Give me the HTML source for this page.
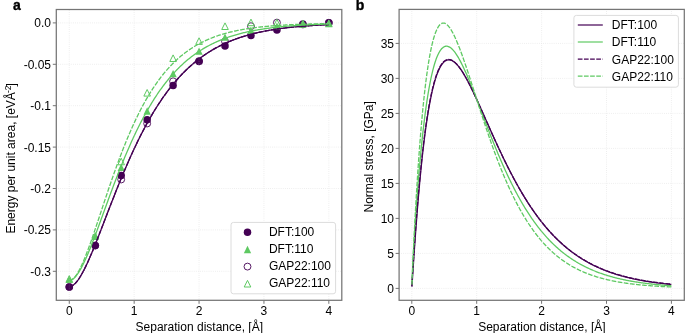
<!DOCTYPE html>
<html><head><meta charset="utf-8"><style>
html,body{margin:0;padding:0;background:#fff;}
svg{display:block;}
#wrap{will-change:transform;width:685px;height:333px;}
text{font-family:"Liberation Sans", sans-serif;fill:#000;}
</style></head><body><div id="wrap">
<svg width="685" height="333" viewBox="0 0 685 333">
<rect width="685" height="333" fill="#fff"/>
<g clip-path="url(#clipL)">
<circle cx="69.28" cy="287.0" r="3.75" fill="#440154"/>
<circle cx="95.24" cy="245.6" r="3.75" fill="#440154"/>
<circle cx="121.19" cy="175.6" r="3.75" fill="#440154"/>
<circle cx="147.15" cy="119.7" r="3.75" fill="#440154"/>
<circle cx="173.10" cy="85.5" r="3.75" fill="#440154"/>
<circle cx="199.06" cy="61.5" r="3.75" fill="#440154"/>
<circle cx="225.02" cy="46.0" r="3.75" fill="#440154"/>
<circle cx="250.97" cy="35.4" r="3.75" fill="#440154"/>
<circle cx="276.93" cy="29.9" r="3.75" fill="#440154"/>
<circle cx="302.88" cy="24.6" r="3.75" fill="#440154"/>
<circle cx="328.84" cy="22.8" r="3.75" fill="#440154"/>
<circle cx="69.28" cy="287.0" r="3.45" fill="none" stroke="#440154" stroke-width="0.9"/>
<circle cx="95.24" cy="245.6" r="3.45" fill="none" stroke="#440154" stroke-width="0.9"/>
<circle cx="121.19" cy="179.5" r="3.45" fill="none" stroke="#440154" stroke-width="0.9"/>
<circle cx="147.15" cy="123.5" r="3.45" fill="none" stroke="#440154" stroke-width="0.9"/>
<circle cx="173.10" cy="81.3" r="3.45" fill="none" stroke="#440154" stroke-width="0.9"/>
<circle cx="199.06" cy="61.0" r="3.45" fill="none" stroke="#440154" stroke-width="0.9"/>
<circle cx="225.02" cy="41.4" r="3.45" fill="none" stroke="#440154" stroke-width="0.9"/>
<circle cx="250.97" cy="26.2" r="3.45" fill="none" stroke="#440154" stroke-width="0.9"/>
<circle cx="276.93" cy="22.6" r="3.45" fill="none" stroke="#440154" stroke-width="0.9"/>
<circle cx="302.88" cy="24.0" r="3.45" fill="none" stroke="#440154" stroke-width="0.9"/>
<circle cx="328.84" cy="22.8" r="3.45" fill="none" stroke="#440154" stroke-width="0.9"/>
<polygon points="69.28,275.35 65.63,282.65 72.93,282.65" fill="#5ec962"/>
<polygon points="95.24,232.65 91.59,239.95 98.89,239.95" fill="#5ec962"/>
<polygon points="121.19,163.75 117.54,171.05 124.84,171.05" fill="#5ec962"/>
<polygon points="147.15,107.35 143.50,114.65 150.80,114.65" fill="#5ec962"/>
<polygon points="173.10,69.95 169.45,77.25 176.75,77.25" fill="#5ec962"/>
<polygon points="199.06,47.45 195.41,54.75 202.71,54.75" fill="#5ec962"/>
<polygon points="225.02,33.55 221.37,40.85 228.67,40.85" fill="#5ec962"/>
<polygon points="250.97,26.65 247.32,33.95 254.62,33.95" fill="#5ec962"/>
<polygon points="276.93,22.55 273.28,29.85 280.58,29.85" fill="#5ec962"/>
<polygon points="302.88,20.35 299.23,27.65 306.53,27.65" fill="#5ec962"/>
<polygon points="328.84,19.95 325.19,27.25 332.49,27.25" fill="#5ec962"/>
<polygon points="69.28,275.70 65.98,282.30 72.58,282.30" fill="none" stroke="#5ec962" stroke-width="1"/>
<polygon points="95.24,232.70 91.94,239.30 98.54,239.30" fill="none" stroke="#5ec962" stroke-width="1"/>
<polygon points="121.19,158.20 117.89,164.80 124.49,164.80" fill="none" stroke="#5ec962" stroke-width="1"/>
<polygon points="147.15,89.50 143.85,96.10 150.45,96.10" fill="none" stroke="#5ec962" stroke-width="1"/>
<polygon points="173.10,54.90 169.80,61.50 176.40,61.50" fill="none" stroke="#5ec962" stroke-width="1"/>
<polygon points="199.06,37.80 195.76,44.40 202.36,44.40" fill="none" stroke="#5ec962" stroke-width="1"/>
<polygon points="225.02,22.90 221.72,29.50 228.32,29.50" fill="none" stroke="#5ec962" stroke-width="1"/>
<polygon points="250.97,19.10 247.67,25.70 254.27,25.70" fill="none" stroke="#5ec962" stroke-width="1"/>
<polygon points="276.93,19.30 273.63,25.90 280.23,25.90" fill="none" stroke="#5ec962" stroke-width="1"/>
<polygon points="302.88,20.20 299.58,26.80 306.18,26.80" fill="none" stroke="#5ec962" stroke-width="1"/>
<polygon points="328.84,19.90 325.54,26.50 332.14,26.50" fill="none" stroke="#5ec962" stroke-width="1"/>
<path d="M69.28,286.57 L70.15,286.50 L71.02,286.27 L71.88,285.91 L72.75,285.42 L73.62,284.81 L74.49,284.07 L75.36,283.23 L76.22,282.28 L77.09,281.23 L77.96,280.08 L78.83,278.85 L79.70,277.53 L80.57,276.14 L81.43,274.67 L82.30,273.13 L83.17,271.53 L84.04,269.87 L84.91,268.15 L85.77,266.38 L86.64,264.56 L87.51,262.69 L88.38,260.78 L89.25,258.83 L90.11,256.84 L90.98,254.82 L91.85,252.77 L92.72,250.69 L93.59,248.59 L94.45,246.46 L95.32,244.31 L96.19,242.14 L97.06,239.95 L97.93,237.75 L98.80,235.54 L99.66,233.32 L100.53,231.08 L101.40,228.84 L102.27,226.60 L103.14,224.34 L104.00,222.09 L104.87,219.83 L105.74,217.57 L106.61,215.32 L107.48,213.06 L108.34,210.81 L109.21,208.56 L110.08,206.32 L110.95,204.08 L111.82,201.85 L112.68,199.63 L113.55,197.42 L114.42,195.21 L115.29,193.02 L116.16,190.83 L117.03,188.66 L117.89,186.50 L118.76,184.35 L119.63,182.22 L120.50,180.10 L121.37,177.99 L122.23,175.90 L123.10,173.82 L123.97,171.76 L124.84,169.71 L125.71,167.68 L126.57,165.67 L127.44,163.67 L128.31,161.69 L129.18,159.72 L130.05,157.78 L130.91,155.85 L131.78,153.94 L132.65,152.04 L133.52,150.17 L134.39,148.31 L135.26,146.47 L136.12,144.65 L136.99,142.85 L137.86,141.07 L138.73,139.31 L139.60,137.56 L140.46,135.83 L141.33,134.13 L142.20,132.44 L143.07,130.77 L143.94,129.12 L144.80,127.49 L145.67,125.87 L146.54,124.28 L147.41,122.70 L148.28,121.15 L149.14,119.61 L150.01,118.09 L150.88,116.59 L151.75,115.11 L152.62,113.64 L153.49,112.20 L154.35,110.77 L155.22,109.36 L156.09,107.97 L156.96,106.60 L157.83,105.24 L158.69,103.91 L159.56,102.59 L160.43,101.29 L161.30,100.00 L162.17,98.74 L163.03,97.49 L163.90,96.25 L164.77,95.04 L165.64,93.84 L166.51,92.66 L167.37,91.49 L168.24,90.34 L169.11,89.21 L169.98,88.09 L170.85,86.99 L171.72,85.90 L172.58,84.83 L173.45,83.78 L174.32,82.74 L175.19,81.72 L176.06,80.71 L176.92,79.72 L177.79,78.74 L178.66,77.77 L179.53,76.82 L180.40,75.89 L181.26,74.96 L182.13,74.06 L183.00,73.16 L183.87,72.28 L184.74,71.42 L185.60,70.56 L186.47,69.72 L187.34,68.90 L188.21,68.08 L189.08,67.28 L189.95,66.49 L190.81,65.71 L191.68,64.95 L192.55,64.20 L193.42,63.46 L194.29,62.73 L195.15,62.01 L196.02,61.31 L196.89,60.61 L197.76,59.93 L198.63,59.26 L199.49,58.60 L200.36,57.95 L201.23,57.31 L202.10,56.68 L202.97,56.06 L203.83,55.45 L204.70,54.86 L205.57,54.27 L206.44,53.69 L207.31,53.12 L208.17,52.56 L209.04,52.01 L209.91,51.47 L210.78,50.94 L211.65,50.42 L212.52,49.90 L213.38,49.40 L214.25,48.90 L215.12,48.41 L215.99,47.94 L216.86,47.46 L217.72,47.00 L218.59,46.55 L219.46,46.10 L220.33,45.66 L221.20,45.23 L222.06,44.80 L222.93,44.39 L223.80,43.98 L224.67,43.58 L225.54,43.18 L226.40,42.79 L227.27,42.41 L228.14,42.04 L229.01,41.67 L229.88,41.31 L230.75,40.95 L231.61,40.60 L232.48,40.26 L233.35,39.92 L234.22,39.59 L235.09,39.27 L235.95,38.95 L236.82,38.64 L237.69,38.33 L238.56,38.03 L239.43,37.74 L240.29,37.44 L241.16,37.16 L242.03,36.88 L242.90,36.60 L243.77,36.33 L244.63,36.07 L245.50,35.81 L246.37,35.56 L247.24,35.30 L248.11,35.06 L248.98,34.82 L249.84,34.58 L250.71,34.35 L251.58,34.12 L252.45,33.90 L253.32,33.68 L254.18,33.46 L255.05,33.25 L255.92,33.04 L256.79,32.84 L257.66,32.64 L258.52,32.44 L259.39,32.25 L260.26,32.06 L261.13,31.88 L262.00,31.70 L262.86,31.52 L263.73,31.35 L264.60,31.17 L265.47,31.01 L266.34,30.84 L267.21,30.68 L268.07,30.52 L268.94,30.37 L269.81,30.21 L270.68,30.06 L271.55,29.92 L272.41,29.77 L273.28,29.63 L274.15,29.50 L275.02,29.36 L275.89,29.23 L276.75,29.10 L277.62,28.97 L278.49,28.84 L279.36,28.72 L280.23,28.60 L281.09,28.48 L281.96,28.37 L282.83,28.25 L283.70,28.14 L284.57,28.03 L285.44,27.93 L286.30,27.82 L287.17,27.72 L288.04,27.62 L288.91,27.52 L289.78,27.43 L290.64,27.33 L291.51,27.24 L292.38,27.15 L293.25,27.06 L294.12,26.97 L294.98,26.89 L295.85,26.80 L296.72,26.72 L297.59,26.64 L298.46,26.56 L299.32,26.48 L300.19,26.41 L301.06,26.33 L301.93,26.26 L302.80,26.19 L303.67,26.12 L304.53,26.05 L305.40,25.98 L306.27,25.92 L307.14,25.85 L308.01,25.79 L308.87,25.73 L309.74,25.67 L310.61,25.61 L311.48,25.55 L312.35,25.50 L313.21,25.44 L314.08,25.39 L314.95,25.33 L315.82,25.28 L316.69,25.23 L317.55,25.18 L318.42,25.13 L319.29,25.08 L320.16,25.04 L321.03,24.99 L321.90,24.94 L322.76,24.90 L323.63,24.86 L324.50,24.82 L325.37,24.77 L326.24,24.73 L327.10,24.69 L327.97,24.65 L328.84,24.62" fill="none" stroke="#440154" stroke-width="1.3" stroke-linejoin="round"/>
<path d="M69.28,286.57 L70.15,286.50 L71.02,286.27 L71.88,285.91 L72.75,285.42 L73.62,284.81 L74.49,284.07 L75.36,283.23 L76.22,282.28 L77.09,281.23 L77.96,280.08 L78.83,278.85 L79.70,277.53 L80.57,276.14 L81.43,274.67 L82.30,273.13 L83.17,271.53 L84.04,269.87 L84.91,268.15 L85.77,266.38 L86.64,264.56 L87.51,262.69 L88.38,260.78 L89.25,258.83 L90.11,256.84 L90.98,254.82 L91.85,252.77 L92.72,250.69 L93.59,248.59 L94.45,246.46 L95.32,244.31 L96.19,242.14 L97.06,239.95 L97.93,237.75 L98.80,235.54 L99.66,233.32 L100.53,231.08 L101.40,228.84 L102.27,226.60 L103.14,224.34 L104.00,222.09 L104.87,219.83 L105.74,217.57 L106.61,215.32 L107.48,213.06 L108.34,210.81 L109.21,208.56 L110.08,206.32 L110.95,204.08 L111.82,201.85 L112.68,199.63 L113.55,197.42 L114.42,195.21 L115.29,193.02 L116.16,190.83 L117.03,188.66 L117.89,186.50 L118.76,184.35 L119.63,182.22 L120.50,180.10 L121.37,177.99 L122.23,175.90 L123.10,173.82 L123.97,171.76 L124.84,169.71 L125.71,167.68 L126.57,165.67 L127.44,163.67 L128.31,161.69 L129.18,159.72 L130.05,157.78 L130.91,155.85 L131.78,153.94 L132.65,152.04 L133.52,150.17 L134.39,148.31 L135.26,146.47 L136.12,144.65 L136.99,142.85 L137.86,141.07 L138.73,139.31 L139.60,137.56 L140.46,135.83 L141.33,134.13 L142.20,132.44 L143.07,130.77 L143.94,129.12 L144.80,127.49 L145.67,125.87 L146.54,124.28 L147.41,122.70 L148.28,121.15 L149.14,119.61 L150.01,118.09 L150.88,116.59 L151.75,115.11 L152.62,113.64 L153.49,112.20 L154.35,110.77 L155.22,109.36 L156.09,107.97 L156.96,106.60 L157.83,105.24 L158.69,103.91 L159.56,102.59 L160.43,101.29 L161.30,100.00 L162.17,98.74 L163.03,97.49 L163.90,96.25 L164.77,95.04 L165.64,93.84 L166.51,92.66 L167.37,91.49 L168.24,90.34 L169.11,89.21 L169.98,88.09 L170.85,86.99 L171.72,85.90 L172.58,84.83 L173.45,83.78 L174.32,82.74 L175.19,81.72 L176.06,80.71 L176.92,79.72 L177.79,78.74 L178.66,77.77 L179.53,76.82 L180.40,75.89 L181.26,74.96 L182.13,74.06 L183.00,73.16 L183.87,72.28 L184.74,71.42 L185.60,70.56 L186.47,69.72 L187.34,68.90 L188.21,68.08 L189.08,67.28 L189.95,66.49 L190.81,65.71 L191.68,64.95 L192.55,64.20 L193.42,63.46 L194.29,62.73 L195.15,62.01 L196.02,61.31 L196.89,60.61 L197.76,59.93 L198.63,59.26 L199.49,58.60 L200.36,57.95 L201.23,57.31 L202.10,56.68 L202.97,56.06 L203.83,55.45 L204.70,54.86 L205.57,54.27 L206.44,53.69 L207.31,53.12 L208.17,52.56 L209.04,52.01 L209.91,51.47 L210.78,50.94 L211.65,50.42 L212.52,49.90 L213.38,49.40 L214.25,48.90 L215.12,48.41 L215.99,47.94 L216.86,47.46 L217.72,47.00 L218.59,46.55 L219.46,46.10 L220.33,45.66 L221.20,45.23 L222.06,44.80 L222.93,44.39 L223.80,43.98 L224.67,43.58 L225.54,43.18 L226.40,42.79 L227.27,42.41 L228.14,42.04 L229.01,41.67 L229.88,41.31 L230.75,40.95 L231.61,40.60 L232.48,40.26 L233.35,39.92 L234.22,39.59 L235.09,39.27 L235.95,38.95 L236.82,38.64 L237.69,38.33 L238.56,38.03 L239.43,37.74 L240.29,37.44 L241.16,37.16 L242.03,36.88 L242.90,36.60 L243.77,36.33 L244.63,36.07 L245.50,35.81 L246.37,35.56 L247.24,35.30 L248.11,35.06 L248.98,34.82 L249.84,34.58 L250.71,34.35 L251.58,34.12 L252.45,33.90 L253.32,33.68 L254.18,33.46 L255.05,33.25 L255.92,33.04 L256.79,32.84 L257.66,32.64 L258.52,32.44 L259.39,32.25 L260.26,32.06 L261.13,31.88 L262.00,31.70 L262.86,31.52 L263.73,31.35 L264.60,31.17 L265.47,31.01 L266.34,30.84 L267.21,30.68 L268.07,30.52 L268.94,30.37 L269.81,30.21 L270.68,30.06 L271.55,29.92 L272.41,29.77 L273.28,29.63 L274.15,29.50 L275.02,29.36 L275.89,29.23 L276.75,29.10 L277.62,28.97 L278.49,28.84 L279.36,28.72 L280.23,28.60 L281.09,28.48 L281.96,28.37 L282.83,28.25 L283.70,28.14 L284.57,28.03 L285.44,27.93 L286.30,27.82 L287.17,27.72 L288.04,27.62 L288.91,27.52 L289.78,27.43 L290.64,27.33 L291.51,27.24 L292.38,27.15 L293.25,27.06 L294.12,26.97 L294.98,26.89 L295.85,26.80 L296.72,26.72 L297.59,26.64 L298.46,26.56 L299.32,26.48 L300.19,26.41 L301.06,26.33 L301.93,26.26 L302.80,26.19 L303.67,26.12 L304.53,26.05 L305.40,25.98 L306.27,25.92 L307.14,25.85 L308.01,25.79 L308.87,25.73 L309.74,25.67 L310.61,25.61 L311.48,25.55 L312.35,25.50 L313.21,25.44 L314.08,25.39 L314.95,25.33 L315.82,25.28 L316.69,25.23 L317.55,25.18 L318.42,25.13 L319.29,25.08 L320.16,25.04 L321.03,24.99 L321.90,24.94 L322.76,24.90 L323.63,24.86 L324.50,24.82 L325.37,24.77 L326.24,24.73 L327.10,24.69 L327.97,24.65 L328.84,24.62" fill="none" stroke="#440154" stroke-width="1.3" stroke-dasharray="4.7 1.45" stroke-linejoin="round"/>
<path d="M69.28,280.39 L70.15,280.31 L71.02,280.07 L71.88,279.68 L72.75,279.15 L73.62,278.49 L74.49,277.70 L75.36,276.79 L76.22,275.76 L77.09,274.63 L77.96,273.40 L78.83,272.07 L79.70,270.65 L80.57,269.15 L81.43,267.57 L82.30,265.92 L83.17,264.19 L84.04,262.41 L84.91,260.56 L85.77,258.65 L86.64,256.70 L87.51,254.69 L88.38,252.64 L89.25,250.55 L90.11,248.42 L90.98,246.26 L91.85,244.06 L92.72,241.84 L93.59,239.59 L94.45,237.31 L95.32,235.02 L96.19,232.71 L97.06,230.38 L97.93,228.04 L98.80,225.69 L99.66,223.33 L100.53,220.96 L101.40,218.58 L102.27,216.21 L103.14,213.83 L104.00,211.44 L104.87,209.06 L105.74,206.69 L106.61,204.31 L107.48,201.94 L108.34,199.58 L109.21,197.22 L110.08,194.87 L110.95,192.54 L111.82,190.21 L112.68,187.89 L113.55,185.59 L114.42,183.30 L115.29,181.02 L116.16,178.75 L117.03,176.51 L117.89,174.27 L118.76,172.06 L119.63,169.86 L120.50,167.68 L121.37,165.52 L122.23,163.37 L123.10,161.24 L123.97,159.14 L124.84,157.05 L125.71,154.98 L126.57,152.93 L127.44,150.91 L128.31,148.90 L129.18,146.92 L130.05,144.95 L130.91,143.01 L131.78,141.09 L132.65,139.19 L133.52,137.31 L134.39,135.45 L135.26,133.61 L136.12,131.80 L136.99,130.01 L137.86,128.24 L138.73,126.49 L139.60,124.77 L140.46,123.06 L141.33,121.38 L142.20,119.72 L143.07,118.08 L143.94,116.46 L144.80,114.87 L145.67,113.29 L146.54,111.74 L147.41,110.21 L148.28,108.70 L149.14,107.21 L150.01,105.74 L150.88,104.30 L151.75,102.87 L152.62,101.47 L153.49,100.08 L154.35,98.72 L155.22,97.37 L156.09,96.05 L156.96,94.74 L157.83,93.46 L158.69,92.19 L159.56,90.94 L160.43,89.72 L161.30,88.51 L162.17,87.32 L163.03,86.15 L163.90,84.99 L164.77,83.86 L165.64,82.74 L166.51,81.64 L167.37,80.56 L168.24,79.50 L169.11,78.45 L169.98,77.42 L170.85,76.41 L171.72,75.41 L172.58,74.43 L173.45,73.47 L174.32,72.52 L175.19,71.59 L176.06,70.67 L176.92,69.77 L177.79,68.88 L178.66,68.01 L179.53,67.15 L180.40,66.31 L181.26,65.48 L182.13,64.67 L183.00,63.87 L183.87,63.09 L184.74,62.32 L185.60,61.56 L186.47,60.81 L187.34,60.08 L188.21,59.36 L189.08,58.65 L189.95,57.96 L190.81,57.28 L191.68,56.61 L192.55,55.95 L193.42,55.30 L194.29,54.67 L195.15,54.05 L196.02,53.44 L196.89,52.83 L197.76,52.24 L198.63,51.67 L199.49,51.10 L200.36,50.54 L201.23,49.99 L202.10,49.45 L202.97,48.92 L203.83,48.41 L204.70,47.90 L205.57,47.40 L206.44,46.91 L207.31,46.43 L208.17,45.96 L209.04,45.49 L209.91,45.04 L210.78,44.59 L211.65,44.15 L212.52,43.72 L213.38,43.30 L214.25,42.89 L215.12,42.48 L215.99,42.09 L216.86,41.70 L217.72,41.31 L218.59,40.94 L219.46,40.57 L220.33,40.21 L221.20,39.86 L222.06,39.51 L222.93,39.17 L223.80,38.83 L224.67,38.51 L225.54,38.18 L226.40,37.87 L227.27,37.56 L228.14,37.26 L229.01,36.96 L229.88,36.67 L230.75,36.38 L231.61,36.10 L232.48,35.83 L233.35,35.56 L234.22,35.30 L235.09,35.04 L235.95,34.79 L236.82,34.54 L237.69,34.29 L238.56,34.06 L239.43,33.82 L240.29,33.59 L241.16,33.37 L242.03,33.15 L242.90,32.93 L243.77,32.72 L244.63,32.51 L245.50,32.31 L246.37,32.11 L247.24,31.92 L248.11,31.73 L248.98,31.54 L249.84,31.36 L250.71,31.18 L251.58,31.00 L252.45,30.83 L253.32,30.66 L254.18,30.50 L255.05,30.33 L255.92,30.17 L256.79,30.02 L257.66,29.87 L258.52,29.72 L259.39,29.57 L260.26,29.43 L261.13,29.29 L262.00,29.15 L262.86,29.02 L263.73,28.89 L264.60,28.76 L265.47,28.63 L266.34,28.51 L267.21,28.39 L268.07,28.27 L268.94,28.15 L269.81,28.04 L270.68,27.93 L271.55,27.82 L272.41,27.71 L273.28,27.61 L274.15,27.50 L275.02,27.40 L275.89,27.31 L276.75,27.21 L277.62,27.12 L278.49,27.02 L279.36,26.93 L280.23,26.85 L281.09,26.76 L281.96,26.68 L282.83,26.59 L283.70,26.51 L284.57,26.43 L285.44,26.35 L286.30,26.28 L287.17,26.20 L288.04,26.13 L288.91,26.06 L289.78,25.99 L290.64,25.92 L291.51,25.86 L292.38,25.79 L293.25,25.73 L294.12,25.66 L294.98,25.60 L295.85,25.54 L296.72,25.49 L297.59,25.43 L298.46,25.37 L299.32,25.32 L300.19,25.26 L301.06,25.21 L301.93,25.16 L302.80,25.11 L303.67,25.06 L304.53,25.01 L305.40,24.96 L306.27,24.92 L307.14,24.87 L308.01,24.83 L308.87,24.79 L309.74,24.74 L310.61,24.70 L311.48,24.66 L312.35,24.62 L313.21,24.58 L314.08,24.55 L314.95,24.51 L315.82,24.47 L316.69,24.44 L317.55,24.40 L318.42,24.37 L319.29,24.34 L320.16,24.30 L321.03,24.27 L321.90,24.24 L322.76,24.21 L323.63,24.18 L324.50,24.15 L325.37,24.12 L326.24,24.10 L327.10,24.07 L327.97,24.04 L328.84,24.02" fill="none" stroke="#5ec962" stroke-width="1.3" stroke-linejoin="round"/>
<path d="M69.28,280.52 L70.15,280.43 L71.02,280.15 L71.88,279.70 L72.75,279.08 L73.62,278.30 L74.49,277.38 L75.36,276.33 L76.22,275.14 L77.09,273.83 L77.96,272.40 L78.83,270.87 L79.70,269.24 L80.57,267.51 L81.43,265.69 L82.30,263.79 L83.17,261.82 L84.04,259.77 L84.91,257.66 L85.77,255.49 L86.64,253.26 L87.51,250.98 L88.38,248.66 L89.25,246.29 L90.11,243.88 L90.98,241.44 L91.85,238.97 L92.72,236.47 L93.59,233.94 L94.45,231.39 L95.32,228.83 L96.19,226.25 L97.06,223.66 L97.93,221.06 L98.80,218.44 L99.66,215.83 L100.53,213.21 L101.40,210.59 L102.27,207.97 L103.14,205.36 L104.00,202.74 L104.87,200.14 L105.74,197.54 L106.61,194.95 L107.48,192.38 L108.34,189.81 L109.21,187.26 L110.08,184.72 L110.95,182.20 L111.82,179.70 L112.68,177.21 L113.55,174.74 L114.42,172.29 L115.29,169.86 L116.16,167.45 L117.03,165.07 L117.89,162.70 L118.76,160.36 L119.63,158.04 L120.50,155.74 L121.37,153.47 L122.23,151.23 L123.10,149.00 L123.97,146.81 L124.84,144.64 L125.71,142.49 L126.57,140.37 L127.44,138.28 L128.31,136.21 L129.18,134.17 L130.05,132.16 L130.91,130.17 L131.78,128.21 L132.65,126.27 L133.52,124.37 L134.39,122.48 L135.26,120.63 L136.12,118.80 L136.99,117.00 L137.86,115.23 L138.73,113.48 L139.60,111.76 L140.46,110.06 L141.33,108.39 L142.20,106.75 L143.07,105.13 L143.94,103.54 L144.80,101.97 L145.67,100.43 L146.54,98.91 L147.41,97.42 L148.28,95.95 L149.14,94.50 L150.01,93.08 L150.88,91.69 L151.75,90.32 L152.62,88.97 L153.49,87.64 L154.35,86.34 L155.22,85.06 L156.09,83.80 L156.96,82.56 L157.83,81.35 L158.69,80.16 L159.56,78.99 L160.43,77.84 L161.30,76.71 L162.17,75.60 L163.03,74.51 L163.90,73.44 L164.77,72.39 L165.64,71.37 L166.51,70.35 L167.37,69.36 L168.24,68.39 L169.11,67.44 L169.98,66.50 L170.85,65.58 L171.72,64.68 L172.58,63.80 L173.45,62.93 L174.32,62.08 L175.19,61.25 L176.06,60.43 L176.92,59.63 L177.79,58.84 L178.66,58.07 L179.53,57.32 L180.40,56.58 L181.26,55.85 L182.13,55.14 L183.00,54.44 L183.87,53.76 L184.74,53.09 L185.60,52.44 L186.47,51.79 L187.34,51.16 L188.21,50.55 L189.08,49.94 L189.95,49.35 L190.81,48.77 L191.68,48.21 L192.55,47.65 L193.42,47.11 L194.29,46.57 L195.15,46.05 L196.02,45.54 L196.89,45.04 L197.76,44.55 L198.63,44.07 L199.49,43.60 L200.36,43.14 L201.23,42.69 L202.10,42.25 L202.97,41.82 L203.83,41.39 L204.70,40.98 L205.57,40.58 L206.44,40.18 L207.31,39.79 L208.17,39.42 L209.04,39.04 L209.91,38.68 L210.78,38.33 L211.65,37.98 L212.52,37.64 L213.38,37.31 L214.25,36.98 L215.12,36.66 L215.99,36.35 L216.86,36.05 L217.72,35.75 L218.59,35.46 L219.46,35.17 L220.33,34.90 L221.20,34.62 L222.06,34.36 L222.93,34.10 L223.80,33.84 L224.67,33.59 L225.54,33.35 L226.40,33.11 L227.27,32.88 L228.14,32.65 L229.01,32.43 L229.88,32.21 L230.75,32.00 L231.61,31.79 L232.48,31.58 L233.35,31.38 L234.22,31.19 L235.09,31.00 L235.95,30.81 L236.82,30.63 L237.69,30.46 L238.56,30.28 L239.43,30.11 L240.29,29.95 L241.16,29.78 L242.03,29.63 L242.90,29.47 L243.77,29.32 L244.63,29.17 L245.50,29.03 L246.37,28.89 L247.24,28.75 L248.11,28.61 L248.98,28.48 L249.84,28.35 L250.71,28.23 L251.58,28.10 L252.45,27.98 L253.32,27.87 L254.18,27.75 L255.05,27.64 L255.92,27.53 L256.79,27.42 L257.66,27.32 L258.52,27.22 L259.39,27.12 L260.26,27.02 L261.13,26.93 L262.00,26.83 L262.86,26.74 L263.73,26.65 L264.60,26.57 L265.47,26.48 L266.34,26.40 L267.21,26.32 L268.07,26.24 L268.94,26.16 L269.81,26.09 L270.68,26.01 L271.55,25.94 L272.41,25.87 L273.28,25.80 L274.15,25.74 L275.02,25.67 L275.89,25.61 L276.75,25.55 L277.62,25.48 L278.49,25.42 L279.36,25.37 L280.23,25.31 L281.09,25.25 L281.96,25.20 L282.83,25.15 L283.70,25.10 L284.57,25.05 L285.44,25.00 L286.30,24.95 L287.17,24.90 L288.04,24.86 L288.91,24.81 L289.78,24.77 L290.64,24.72 L291.51,24.68 L292.38,24.64 L293.25,24.60 L294.12,24.56 L294.98,24.53 L295.85,24.49 L296.72,24.45 L297.59,24.42 L298.46,24.38 L299.32,24.35 L300.19,24.32 L301.06,24.28 L301.93,24.25 L302.80,24.22 L303.67,24.19 L304.53,24.16 L305.40,24.13 L306.27,24.11 L307.14,24.08 L308.01,24.05 L308.87,24.03 L309.74,24.00 L310.61,23.98 L311.48,23.95 L312.35,23.93 L313.21,23.91 L314.08,23.88 L314.95,23.86 L315.82,23.84 L316.69,23.82 L317.55,23.80 L318.42,23.78 L319.29,23.76 L320.16,23.74 L321.03,23.72 L321.90,23.70 L322.76,23.68 L323.63,23.67 L324.50,23.65 L325.37,23.63 L326.24,23.62 L327.10,23.60 L327.97,23.59 L328.84,23.57" fill="none" stroke="#5ec962" stroke-width="1.3" stroke-dasharray="4.7 1.45" stroke-linejoin="round"/>
</g>
<path d="M411.93,286.59 L412.58,276.72 L413.23,266.80 L413.88,257.06 L414.53,247.57 L415.18,238.36 L415.83,229.45 L416.48,220.84 L417.13,212.53 L417.78,204.51 L418.43,196.79 L419.08,189.35 L419.73,182.20 L420.38,175.33 L421.03,168.72 L421.68,162.38 L422.33,156.30 L422.98,150.47 L423.64,144.88 L424.29,139.54 L424.94,134.42 L425.59,129.53 L426.24,124.86 L426.89,120.40 L427.54,116.15 L428.19,112.10 L428.84,108.25 L429.49,104.58 L430.14,101.10 L430.79,97.80 L431.44,94.68 L432.09,91.72 L432.74,88.92 L433.39,86.29 L434.04,83.81 L434.69,81.47 L435.34,79.28 L435.99,77.24 L436.64,75.33 L437.29,73.55 L437.94,71.89 L438.59,70.36 L439.24,68.95 L439.89,67.66 L440.54,66.48 L441.19,65.41 L441.84,64.44 L442.49,63.58 L443.14,62.81 L443.79,62.14 L444.44,61.56 L445.10,61.07 L445.75,60.66 L446.40,60.34 L447.05,60.10 L447.70,59.94 L448.35,59.85 L449.00,59.83 L449.65,59.88 L450.30,60.00 L450.95,60.19 L451.60,60.44 L452.25,60.74 L452.90,61.11 L453.55,61.53 L454.20,62.01 L454.85,62.53 L455.50,63.11 L456.15,63.73 L456.80,64.41 L457.45,65.12 L458.10,65.88 L458.75,66.68 L459.40,67.51 L460.05,68.39 L460.70,69.30 L461.35,70.24 L462.00,71.22 L462.65,72.23 L463.30,73.27 L463.95,74.34 L464.60,75.43 L465.25,76.56 L465.90,77.70 L466.56,78.87 L467.21,80.06 L467.86,81.28 L468.51,82.51 L469.16,83.76 L469.81,85.04 L470.46,86.32 L471.11,87.63 L471.76,88.95 L472.41,90.28 L473.06,91.63 L473.71,92.99 L474.36,94.36 L475.01,95.74 L475.66,97.13 L476.31,98.53 L476.96,99.94 L477.61,101.36 L478.26,102.78 L478.91,104.21 L479.56,105.65 L480.21,107.09 L480.86,108.54 L481.51,109.99 L482.16,111.44 L482.81,112.90 L483.46,114.35 L484.11,115.81 L484.76,117.28 L485.41,118.74 L486.06,120.20 L486.71,121.66 L487.36,123.13 L488.02,124.59 L488.67,126.05 L489.32,127.51 L489.97,128.96 L490.62,130.42 L491.27,131.87 L491.92,133.31 L492.57,134.76 L493.22,136.20 L493.87,137.63 L494.52,139.07 L495.17,140.49 L495.82,141.91 L496.47,143.33 L497.12,144.74 L497.77,146.15 L498.42,147.55 L499.07,148.94 L499.72,150.33 L500.37,151.71 L501.02,153.09 L501.67,154.45 L502.32,155.82 L502.97,157.17 L503.62,158.52 L504.27,159.85 L504.92,161.18 L505.57,162.51 L506.22,163.82 L506.87,165.13 L507.52,166.43 L508.17,167.72 L508.82,169.00 L509.47,170.28 L510.13,171.54 L510.78,172.80 L511.43,174.05 L512.08,175.29 L512.73,176.52 L513.38,177.74 L514.03,178.96 L514.68,180.16 L515.33,181.36 L515.98,182.54 L516.63,183.72 L517.28,184.89 L517.93,186.05 L518.58,187.20 L519.23,188.34 L519.88,189.47 L520.53,190.59 L521.18,191.70 L521.83,192.80 L522.48,193.90 L523.13,194.98 L523.78,196.06 L524.43,197.12 L525.08,198.18 L525.73,199.23 L526.38,200.27 L527.03,201.29 L527.68,202.31 L528.33,203.32 L528.98,204.33 L529.63,205.32 L530.28,206.30 L530.93,207.27 L531.59,208.24 L532.24,209.19 L532.89,210.14 L533.54,211.08 L534.19,212.00 L534.84,212.92 L535.49,213.83 L536.14,214.73 L536.79,215.63 L537.44,216.51 L538.09,217.38 L538.74,218.25 L539.39,219.11 L540.04,219.96 L540.69,220.80 L541.34,221.63 L541.99,222.45 L542.64,223.26 L543.29,224.07 L543.94,224.87 L544.59,225.66 L545.24,226.44 L545.89,227.21 L546.54,227.98 L547.19,228.73 L547.84,229.48 L548.49,230.22 L549.14,230.95 L549.79,231.68 L550.44,232.39 L551.09,233.10 L551.74,233.80 L552.39,234.50 L553.05,235.18 L553.70,235.86 L554.35,236.53 L555.00,237.20 L555.65,237.85 L556.30,238.50 L556.95,239.14 L557.60,239.78 L558.25,240.40 L558.90,241.02 L559.55,241.64 L560.20,242.24 L560.85,242.84 L561.50,243.43 L562.15,244.02 L562.80,244.60 L563.45,245.17 L564.10,245.73 L564.75,246.29 L565.40,246.84 L566.05,247.39 L566.70,247.93 L567.35,248.46 L568.00,248.99 L568.65,249.51 L569.30,250.02 L569.95,250.53 L570.60,251.03 L571.25,251.53 L571.90,252.02 L572.55,252.50 L573.20,252.98 L573.85,253.46 L574.51,253.92 L575.16,254.38 L575.81,254.84 L576.46,255.29 L577.11,255.74 L577.76,256.18 L578.41,256.61 L579.06,257.04 L579.71,257.46 L580.36,257.88 L581.01,258.29 L581.66,258.70 L582.31,259.10 L582.96,259.50 L583.61,259.90 L584.26,260.28 L584.91,260.67 L585.56,261.05 L586.21,261.42 L586.86,261.79 L587.51,262.15 L588.16,262.51 L588.81,262.87 L589.46,263.22 L590.11,263.57 L590.76,263.91 L591.41,264.25 L592.06,264.58 L592.71,264.91 L593.36,265.23 L594.01,265.56 L594.66,265.87 L595.31,266.19 L595.97,266.49 L596.62,266.80 L597.27,267.10 L597.92,267.40 L598.57,267.69 L599.22,267.98 L599.87,268.26 L600.52,268.55 L601.17,268.83 L601.82,269.10 L602.47,269.37 L603.12,269.64 L603.77,269.90 L604.42,270.16 L605.07,270.42 L605.72,270.67 L606.37,270.92 L607.02,271.17 L607.67,271.42 L608.32,271.66 L608.97,271.89 L609.62,272.13 L610.27,272.36 L610.92,272.59 L611.57,272.81 L612.22,273.03 L612.87,273.25 L613.52,273.47 L614.17,273.68 L614.82,273.89 L615.47,274.10 L616.12,274.31 L616.77,274.51 L617.42,274.71 L618.08,274.91 L618.73,275.10 L619.38,275.29 L620.03,275.48 L620.68,275.67 L621.33,275.85 L621.98,276.03 L622.63,276.21 L623.28,276.39 L623.93,276.56 L624.58,276.73 L625.23,276.90 L625.88,277.07 L626.53,277.23 L627.18,277.40 L627.83,277.56 L628.48,277.71 L629.13,277.87 L629.78,278.02 L630.43,278.18 L631.08,278.33 L631.73,278.47 L632.38,278.62 L633.03,278.76 L633.68,278.90 L634.33,279.04 L634.98,279.18 L635.63,279.32 L636.28,279.45 L636.93,279.58 L637.58,279.71 L638.23,279.84 L638.88,279.97 L639.54,280.09 L640.19,280.22 L640.84,280.34 L641.49,280.46 L642.14,280.57 L642.79,280.69 L643.44,280.81 L644.09,280.92 L644.74,281.03 L645.39,281.14 L646.04,281.25 L646.69,281.35 L647.34,281.46 L647.99,281.56 L648.64,281.67 L649.29,281.77 L649.94,281.87 L650.59,281.96 L651.24,282.06 L651.89,282.16 L652.54,282.25 L653.19,282.34 L653.84,282.43 L654.49,282.52 L655.14,282.61 L655.79,282.70 L656.44,282.79 L657.09,282.87 L657.74,282.96 L658.39,283.04 L659.04,283.12 L659.69,283.20 L660.34,283.28 L661.00,283.36 L661.65,283.43 L662.30,283.51 L662.95,283.58 L663.60,283.66 L664.25,283.73 L664.90,283.80 L665.55,283.87 L666.20,283.94 L666.85,284.01 L667.50,284.08 L668.15,284.14 L668.80,284.21 L669.45,284.27 L670.10,284.34 L670.75,284.40 L671.40,284.46" fill="none" stroke="#440154" stroke-width="1.3" stroke-linejoin="round"/>
<path d="M411.93,284.41 L412.58,269.61 L413.23,256.90 L413.88,245.22 L414.53,234.29 L415.18,223.98 L415.83,214.19 L416.48,204.87 L417.13,195.98 L417.78,187.49 L418.43,179.38 L419.08,171.62 L419.73,164.21 L420.38,157.11 L421.03,150.33 L421.68,143.84 L422.33,137.63 L422.98,131.71 L423.64,126.05 L424.29,120.65 L424.94,115.50 L425.59,110.59 L426.24,105.91 L426.89,101.46 L427.54,97.23 L428.19,93.22 L428.84,89.41 L429.49,85.81 L430.14,82.40 L430.79,79.18 L431.44,76.14 L432.09,73.28 L432.74,70.60 L433.39,68.08 L434.04,65.73 L434.69,63.53 L435.34,61.49 L435.99,59.60 L436.64,57.85 L437.29,56.24 L437.94,54.77 L438.59,53.42 L439.24,52.21 L439.89,51.12 L440.54,50.15 L441.19,49.29 L441.84,48.55 L442.49,47.92 L443.14,47.39 L443.79,46.96 L444.44,46.63 L445.10,46.39 L445.75,46.25 L446.40,46.19 L447.05,46.22 L447.70,46.34 L448.35,46.53 L449.00,46.80 L449.65,47.14 L450.30,47.55 L450.95,48.03 L451.60,48.58 L452.25,49.19 L452.90,49.86 L453.55,50.60 L454.20,51.38 L454.85,52.22 L455.50,53.12 L456.15,54.06 L456.80,55.05 L457.45,56.08 L458.10,57.16 L458.75,58.28 L459.40,59.45 L460.05,60.64 L460.70,61.88 L461.35,63.15 L462.00,64.45 L462.65,65.78 L463.30,67.14 L463.95,68.53 L464.60,69.95 L465.25,71.39 L465.90,72.86 L466.56,74.34 L467.21,75.85 L467.86,77.38 L468.51,78.92 L469.16,80.49 L469.81,82.07 L470.46,83.66 L471.11,85.27 L471.76,86.89 L472.41,88.52 L473.06,90.16 L473.71,91.81 L474.36,93.47 L475.01,95.14 L475.66,96.81 L476.31,98.49 L476.96,100.18 L477.61,101.87 L478.26,103.56 L478.91,105.26 L479.56,106.95 L480.21,108.65 L480.86,110.35 L481.51,112.05 L482.16,113.75 L482.81,115.45 L483.46,117.15 L484.11,118.85 L484.76,120.54 L485.41,122.23 L486.06,123.91 L486.71,125.59 L487.36,127.27 L488.02,128.94 L488.67,130.60 L489.32,132.26 L489.97,133.91 L490.62,135.56 L491.27,137.20 L491.92,138.83 L492.57,140.46 L493.22,142.07 L493.87,143.68 L494.52,145.28 L495.17,146.87 L495.82,148.45 L496.47,150.02 L497.12,151.58 L497.77,153.13 L498.42,154.68 L499.07,156.21 L499.72,157.73 L500.37,159.24 L501.02,160.74 L501.67,162.23 L502.32,163.71 L502.97,165.18 L503.62,166.63 L504.27,168.08 L504.92,169.51 L505.57,170.94 L506.22,172.35 L506.87,173.75 L507.52,175.13 L508.17,176.51 L508.82,177.87 L509.47,179.22 L510.13,180.56 L510.78,181.89 L511.43,183.21 L512.08,184.51 L512.73,185.80 L513.38,187.08 L514.03,188.35 L514.68,189.61 L515.33,190.85 L515.98,192.08 L516.63,193.30 L517.28,194.51 L517.93,195.70 L518.58,196.88 L519.23,198.06 L519.88,199.21 L520.53,200.36 L521.18,201.50 L521.83,202.62 L522.48,203.73 L523.13,204.83 L523.78,205.92 L524.43,207.00 L525.08,208.06 L525.73,209.11 L526.38,210.16 L527.03,211.19 L527.68,212.21 L528.33,213.21 L528.98,214.21 L529.63,215.19 L530.28,216.17 L530.93,217.13 L531.59,218.08 L532.24,219.02 L532.89,219.95 L533.54,220.87 L534.19,221.78 L534.84,222.68 L535.49,223.57 L536.14,224.45 L536.79,225.31 L537.44,226.17 L538.09,227.02 L538.74,227.85 L539.39,228.68 L540.04,229.49 L540.69,230.30 L541.34,231.10 L541.99,231.88 L542.64,232.66 L543.29,233.43 L543.94,234.19 L544.59,234.94 L545.24,235.68 L545.89,236.41 L546.54,237.13 L547.19,237.84 L547.84,238.54 L548.49,239.24 L549.14,239.93 L549.79,240.60 L550.44,241.27 L551.09,241.93 L551.74,242.58 L552.39,243.23 L553.05,243.86 L553.70,244.49 L554.35,245.11 L555.00,245.72 L555.65,246.32 L556.30,246.92 L556.95,247.51 L557.60,248.09 L558.25,248.66 L558.90,249.23 L559.55,249.78 L560.20,250.34 L560.85,250.88 L561.50,251.41 L562.15,251.94 L562.80,252.47 L563.45,252.98 L564.10,253.49 L564.75,253.99 L565.40,254.49 L566.05,254.98 L566.70,255.46 L567.35,255.93 L568.00,256.40 L568.65,256.87 L569.30,257.32 L569.95,257.77 L570.60,258.22 L571.25,258.66 L571.90,259.09 L572.55,259.51 L573.20,259.94 L573.85,260.35 L574.51,260.76 L575.16,261.16 L575.81,261.56 L576.46,261.96 L577.11,262.34 L577.76,262.73 L578.41,263.10 L579.06,263.48 L579.71,263.84 L580.36,264.20 L581.01,264.56 L581.66,264.91 L582.31,265.26 L582.96,265.60 L583.61,265.94 L584.26,266.27 L584.91,266.60 L585.56,266.93 L586.21,267.24 L586.86,267.56 L587.51,267.87 L588.16,268.18 L588.81,268.48 L589.46,268.78 L590.11,269.07 L590.76,269.36 L591.41,269.64 L592.06,269.92 L592.71,270.20 L593.36,270.48 L594.01,270.74 L594.66,271.01 L595.31,271.27 L595.97,271.53 L596.62,271.79 L597.27,272.04 L597.92,272.28 L598.57,272.53 L599.22,272.77 L599.87,273.00 L600.52,273.24 L601.17,273.47 L601.82,273.70 L602.47,273.92 L603.12,274.14 L603.77,274.36 L604.42,274.57 L605.07,274.78 L605.72,274.99 L606.37,275.20 L607.02,275.40 L607.67,275.60 L608.32,275.79 L608.97,275.99 L609.62,276.18 L610.27,276.37 L610.92,276.55 L611.57,276.74 L612.22,276.92 L612.87,277.09 L613.52,277.27 L614.17,277.44 L614.82,277.61 L615.47,277.78 L616.12,277.94 L616.77,278.10 L617.42,278.26 L618.08,278.42 L618.73,278.58 L619.38,278.73 L620.03,278.88 L620.68,279.03 L621.33,279.18 L621.98,279.32 L622.63,279.46 L623.28,279.60 L623.93,279.74 L624.58,279.88 L625.23,280.01 L625.88,280.14 L626.53,280.27 L627.18,280.40 L627.83,280.53 L628.48,280.65 L629.13,280.77 L629.78,280.90 L630.43,281.01 L631.08,281.13 L631.73,281.25 L632.38,281.36 L633.03,281.47 L633.68,281.58 L634.33,281.69 L634.98,281.80 L635.63,281.90 L636.28,282.01 L636.93,282.11 L637.58,282.21 L638.23,282.31 L638.88,282.41 L639.54,282.50 L640.19,282.60 L640.84,282.69 L641.49,282.78 L642.14,282.87 L642.79,282.96 L643.44,283.05 L644.09,283.14 L644.74,283.22 L645.39,283.31 L646.04,283.39 L646.69,283.47 L647.34,283.55 L647.99,283.63 L648.64,283.71 L649.29,283.78 L649.94,283.86 L650.59,283.93 L651.24,284.00 L651.89,284.08 L652.54,284.15 L653.19,284.22 L653.84,284.29 L654.49,284.35 L655.14,284.42 L655.79,284.49 L656.44,284.55 L657.09,284.61 L657.74,284.68 L658.39,284.74 L659.04,284.80 L659.69,284.86 L660.34,284.92 L661.00,284.97 L661.65,285.03 L662.30,285.09 L662.95,285.14 L663.60,285.20 L664.25,285.25 L664.90,285.30 L665.55,285.35 L666.20,285.40 L666.85,285.45 L667.50,285.50 L668.15,285.55 L668.80,285.60 L669.45,285.65 L670.10,285.69 L670.75,285.74 L671.40,285.78" fill="none" stroke="#5ec962" stroke-width="1.3" stroke-linejoin="round"/>
<path d="M411.73,286.24 L412.38,276.37 L413.03,266.45 L413.68,256.71 L414.33,247.22 L414.98,238.01 L415.63,229.10 L416.28,220.49 L416.93,212.18 L417.58,204.16 L418.23,196.44 L418.88,189.00 L419.53,181.85 L420.18,174.98 L420.83,168.37 L421.48,162.03 L422.13,155.95 L422.78,150.12 L423.44,144.53 L424.09,139.19 L424.74,134.07 L425.39,129.18 L426.04,124.51 L426.69,120.05 L427.34,115.80 L427.99,111.75 L428.64,107.90 L429.29,104.23 L429.94,100.75 L430.59,97.45 L431.24,94.33 L431.89,91.37 L432.54,88.57 L433.19,85.94 L433.84,83.46 L434.49,81.12 L435.14,78.93 L435.79,76.89 L436.44,74.98 L437.09,73.20 L437.74,71.54 L438.39,70.01 L439.04,68.60 L439.69,67.31 L440.34,66.13 L440.99,65.06 L441.64,64.09 L442.29,63.23 L442.94,62.46 L443.59,61.79 L444.24,61.21 L444.90,60.72 L445.55,60.31 L446.20,59.99 L446.85,59.75 L447.50,59.59 L448.15,59.50 L448.80,59.48 L449.45,59.53 L450.10,59.65 L450.75,59.84 L451.40,60.09 L452.05,60.39 L452.70,60.76 L453.35,61.18 L454.00,61.66 L454.65,62.18 L455.30,62.76 L455.95,63.38 L456.60,64.06 L457.25,64.77 L457.90,65.53 L458.55,66.33 L459.20,67.16 L459.85,68.04 L460.50,68.95 L461.15,69.89 L461.80,70.87 L462.45,71.88 L463.10,72.92 L463.75,73.99 L464.40,75.08 L465.05,76.21 L465.70,77.35 L466.36,78.52 L467.01,79.71 L467.66,80.93 L468.31,82.16 L468.96,83.41 L469.61,84.69 L470.26,85.97 L470.91,87.28 L471.56,88.60 L472.21,89.93 L472.86,91.28 L473.51,92.64 L474.16,94.01 L474.81,95.39 L475.46,96.78 L476.11,98.18 L476.76,99.59 L477.41,101.01 L478.06,102.43 L478.71,103.86 L479.36,105.30 L480.01,106.74 L480.66,108.19 L481.31,109.64 L481.96,111.09 L482.61,112.55 L483.26,114.00 L483.91,115.46 L484.56,116.93 L485.21,118.39 L485.86,119.85 L486.51,121.31 L487.16,122.78 L487.82,124.24 L488.47,125.70 L489.12,127.16 L489.77,128.61 L490.42,130.07 L491.07,131.52 L491.72,132.96 L492.37,134.41 L493.02,135.85 L493.67,137.28 L494.32,138.72 L494.97,140.14 L495.62,141.56 L496.27,142.98 L496.92,144.39 L497.57,145.80 L498.22,147.20 L498.87,148.59 L499.52,149.98 L500.17,151.36 L500.82,152.74 L501.47,154.10 L502.12,155.47 L502.77,156.82 L503.42,158.17 L504.07,159.50 L504.72,160.83 L505.37,162.16 L506.02,163.47 L506.67,164.78 L507.32,166.08 L507.97,167.37 L508.62,168.65 L509.27,169.93 L509.93,171.19 L510.58,172.45 L511.23,173.70 L511.88,174.94 L512.53,176.17 L513.18,177.39 L513.83,178.61 L514.48,179.81 L515.13,181.01 L515.78,182.19 L516.43,183.37 L517.08,184.54 L517.73,185.70 L518.38,186.85 L519.03,187.99 L519.68,189.12 L520.33,190.24 L520.98,191.35 L521.63,192.45 L522.28,193.55 L522.93,194.63 L523.58,195.71 L524.23,196.77 L524.88,197.83 L525.53,198.88 L526.18,199.92 L526.83,200.94 L527.48,201.96 L528.13,202.97 L528.78,203.98 L529.43,204.97 L530.08,205.95 L530.73,206.92 L531.39,207.89 L532.04,208.84 L532.69,209.79 L533.34,210.73 L533.99,211.65 L534.64,212.57 L535.29,213.48 L535.94,214.38 L536.59,215.28 L537.24,216.16 L537.89,217.03 L538.54,217.90 L539.19,218.76 L539.84,219.61 L540.49,220.45 L541.14,221.28 L541.79,222.10 L542.44,222.91 L543.09,223.72 L543.74,224.52 L544.39,225.31 L545.04,226.09 L545.69,226.86 L546.34,227.63 L546.99,228.38 L547.64,229.13 L548.29,229.87 L548.94,230.60 L549.59,231.33 L550.24,232.04 L550.89,232.75 L551.54,233.45 L552.19,234.15 L552.85,234.83 L553.50,235.51 L554.15,236.18 L554.80,236.85 L555.45,237.50 L556.10,238.15 L556.75,238.79 L557.40,239.43 L558.05,240.05 L558.70,240.67 L559.35,241.29 L560.00,241.89 L560.65,242.49 L561.30,243.08 L561.95,243.67 L562.60,244.25 L563.25,244.82 L563.90,245.38 L564.55,245.94 L565.20,246.49 L565.85,247.04 L566.50,247.58 L567.15,248.11 L567.80,248.64 L568.45,249.16 L569.10,249.67 L569.75,250.18 L570.40,250.68 L571.05,251.18 L571.70,251.67 L572.35,252.15 L573.00,252.63 L573.65,253.11 L574.31,253.57 L574.96,254.03 L575.61,254.49 L576.26,254.94 L576.91,255.39 L577.56,255.83 L578.21,256.26 L578.86,256.69 L579.51,257.11 L580.16,257.53 L580.81,257.94 L581.46,258.35 L582.11,258.75 L582.76,259.15 L583.41,259.55 L584.06,259.93 L584.71,260.32 L585.36,260.70 L586.01,261.07 L586.66,261.44 L587.31,261.80 L587.96,262.16 L588.61,262.52 L589.26,262.87 L589.91,263.22 L590.56,263.56 L591.21,263.90 L591.86,264.23 L592.51,264.56 L593.16,264.88 L593.81,265.21 L594.46,265.52 L595.11,265.84 L595.77,266.14 L596.42,266.45 L597.07,266.75 L597.72,267.05 L598.37,267.34 L599.02,267.63 L599.67,267.91 L600.32,268.20 L600.97,268.48 L601.62,268.75 L602.27,269.02 L602.92,269.29 L603.57,269.55 L604.22,269.81 L604.87,270.07 L605.52,270.32 L606.17,270.57 L606.82,270.82 L607.47,271.07 L608.12,271.31 L608.77,271.54 L609.42,271.78 L610.07,272.01 L610.72,272.24 L611.37,272.46 L612.02,272.68 L612.67,272.90 L613.32,273.12 L613.97,273.33 L614.62,273.54 L615.27,273.75 L615.92,273.96 L616.57,274.16 L617.22,274.36 L617.88,274.56 L618.53,274.75 L619.18,274.94 L619.83,275.13 L620.48,275.32 L621.13,275.50 L621.78,275.68 L622.43,275.86 L623.08,276.04 L623.73,276.21 L624.38,276.38 L625.03,276.55 L625.68,276.72 L626.33,276.88 L626.98,277.05 L627.63,277.21 L628.28,277.36 L628.93,277.52 L629.58,277.67 L630.23,277.83 L630.88,277.98 L631.53,278.12 L632.18,278.27 L632.83,278.41 L633.48,278.55 L634.13,278.69 L634.78,278.83 L635.43,278.97 L636.08,279.10 L636.73,279.23 L637.38,279.36 L638.03,279.49 L638.68,279.62 L639.34,279.74 L639.99,279.87 L640.64,279.99 L641.29,280.11 L641.94,280.22 L642.59,280.34 L643.24,280.46 L643.89,280.57 L644.54,280.68 L645.19,280.79 L645.84,280.90 L646.49,281.00 L647.14,281.11 L647.79,281.21 L648.44,281.32 L649.09,281.42 L649.74,281.52 L650.39,281.61 L651.04,281.71 L651.69,281.81 L652.34,281.90 L652.99,281.99 L653.64,282.08 L654.29,282.17 L654.94,282.26 L655.59,282.35 L656.24,282.44 L656.89,282.52 L657.54,282.61 L658.19,282.69 L658.84,282.77 L659.49,282.85 L660.14,282.93 L660.80,283.01 L661.45,283.08 L662.10,283.16 L662.75,283.23 L663.40,283.31 L664.05,283.38 L664.70,283.45 L665.35,283.52 L666.00,283.59 L666.65,283.66 L667.30,283.73 L667.95,283.79 L668.60,283.86 L669.25,283.92 L669.90,283.99 L670.55,284.05 L671.20,284.11" fill="none" stroke="#440154" stroke-width="1.3" stroke-dasharray="4.7 1.45" stroke-linejoin="round"/>
<path d="M411.93,284.65 L412.58,268.72 L413.23,254.27 L413.88,240.73 L414.53,227.92 L415.18,215.75 L415.83,204.17 L416.48,193.13 L417.13,182.62 L417.78,172.58 L418.43,163.02 L419.08,153.90 L419.73,145.21 L420.38,136.94 L421.03,129.06 L421.68,121.56 L422.33,114.43 L422.98,107.66 L423.64,101.24 L424.29,95.15 L424.94,89.38 L425.59,83.92 L426.24,78.76 L426.89,73.89 L427.54,69.31 L428.19,64.99 L428.84,60.94 L429.49,57.15 L430.14,53.59 L430.79,50.28 L431.44,47.20 L432.09,44.34 L432.74,41.69 L433.39,39.25 L434.04,37.01 L434.69,34.96 L435.34,33.09 L435.99,31.41 L436.64,29.90 L437.29,28.56 L437.94,27.38 L438.59,26.35 L439.24,25.47 L439.89,24.74 L440.54,24.15 L441.19,23.68 L441.84,23.35 L442.49,23.14 L443.14,23.05 L443.79,23.07 L444.44,23.20 L445.10,23.44 L445.75,23.78 L446.40,24.21 L447.05,24.74 L447.70,25.36 L448.35,26.06 L449.00,26.84 L449.65,27.70 L450.30,28.64 L450.95,29.64 L451.60,30.72 L452.25,31.85 L452.90,33.05 L453.55,34.31 L454.20,35.63 L454.85,36.99 L455.50,38.41 L456.15,39.88 L456.80,41.39 L457.45,42.94 L458.10,44.54 L458.75,46.17 L459.40,47.84 L460.05,49.54 L460.70,51.27 L461.35,53.03 L462.00,54.83 L462.65,56.64 L463.30,58.48 L463.95,60.35 L464.60,62.23 L465.25,64.14 L465.90,66.06 L466.56,67.99 L467.21,69.95 L467.86,71.91 L468.51,73.89 L469.16,75.87 L469.81,77.87 L470.46,79.87 L471.11,81.89 L471.76,83.90 L472.41,85.92 L473.06,87.95 L473.71,89.98 L474.36,92.01 L475.01,94.04 L475.66,96.07 L476.31,98.10 L476.96,100.12 L477.61,102.15 L478.26,104.17 L478.91,106.19 L479.56,108.20 L480.21,110.21 L480.86,112.21 L481.51,114.20 L482.16,116.19 L482.81,118.17 L483.46,120.14 L484.11,122.10 L484.76,124.05 L485.41,125.99 L486.06,127.93 L486.71,129.85 L487.36,131.76 L488.02,133.66 L488.67,135.55 L489.32,137.43 L489.97,139.29 L490.62,141.14 L491.27,142.98 L491.92,144.80 L492.57,146.62 L493.22,148.41 L493.87,150.20 L494.52,151.97 L495.17,153.73 L495.82,155.47 L496.47,157.20 L497.12,158.91 L497.77,160.61 L498.42,162.29 L499.07,163.96 L499.72,165.61 L500.37,167.25 L501.02,168.87 L501.67,170.48 L502.32,172.07 L502.97,173.65 L503.62,175.21 L504.27,176.75 L504.92,178.28 L505.57,179.79 L506.22,181.29 L506.87,182.78 L507.52,184.24 L508.17,185.69 L508.82,187.13 L509.47,188.55 L510.13,189.96 L510.78,191.35 L511.43,192.72 L512.08,194.08 L512.73,195.42 L513.38,196.75 L514.03,198.06 L514.68,199.36 L515.33,200.64 L515.98,201.91 L516.63,203.16 L517.28,204.40 L517.93,205.63 L518.58,206.83 L519.23,208.03 L519.88,209.21 L520.53,210.37 L521.18,211.52 L521.83,212.66 L522.48,213.78 L523.13,214.89 L523.78,215.98 L524.43,217.06 L525.08,218.13 L525.73,219.18 L526.38,220.22 L527.03,221.24 L527.68,222.26 L528.33,223.26 L528.98,224.24 L529.63,225.22 L530.28,226.18 L530.93,227.12 L531.59,228.06 L532.24,228.98 L532.89,229.89 L533.54,230.79 L534.19,231.67 L534.84,232.55 L535.49,233.41 L536.14,234.26 L536.79,235.10 L537.44,235.92 L538.09,236.74 L538.74,237.54 L539.39,238.34 L540.04,239.12 L540.69,239.89 L541.34,240.65 L541.99,241.40 L542.64,242.14 L543.29,242.86 L543.94,243.58 L544.59,244.29 L545.24,244.99 L545.89,245.67 L546.54,246.35 L547.19,247.02 L547.84,247.68 L548.49,248.33 L549.14,248.97 L549.79,249.60 L550.44,250.22 L551.09,250.83 L551.74,251.43 L552.39,252.02 L553.05,252.61 L553.70,253.18 L554.35,253.75 L555.00,254.31 L555.65,254.86 L556.30,255.41 L556.95,255.94 L557.60,256.47 L558.25,256.99 L558.90,257.50 L559.55,258.00 L560.20,258.50 L560.85,258.98 L561.50,259.46 L562.15,259.94 L562.80,260.40 L563.45,260.86 L564.10,261.31 L564.75,261.76 L565.40,262.20 L566.05,262.63 L566.70,263.05 L567.35,263.47 L568.00,263.89 L568.65,264.29 L569.30,264.69 L569.95,265.08 L570.60,265.47 L571.25,265.85 L571.90,266.23 L572.55,266.59 L573.20,266.96 L573.85,267.32 L574.51,267.67 L575.16,268.01 L575.81,268.36 L576.46,268.69 L577.11,269.02 L577.76,269.35 L578.41,269.67 L579.06,269.98 L579.71,270.29 L580.36,270.60 L581.01,270.90 L581.66,271.19 L582.31,271.48 L582.96,271.77 L583.61,272.05 L584.26,272.33 L584.91,272.60 L585.56,272.87 L586.21,273.13 L586.86,273.39 L587.51,273.64 L588.16,273.90 L588.81,274.14 L589.46,274.39 L590.11,274.63 L590.76,274.86 L591.41,275.09 L592.06,275.32 L592.71,275.54 L593.36,275.76 L594.01,275.98 L594.66,276.19 L595.31,276.40 L595.97,276.61 L596.62,276.81 L597.27,277.01 L597.92,277.21 L598.57,277.40 L599.22,277.59 L599.87,277.78 L600.52,277.96 L601.17,278.14 L601.82,278.32 L602.47,278.49 L603.12,278.67 L603.77,278.83 L604.42,279.00 L605.07,279.16 L605.72,279.32 L606.37,279.48 L607.02,279.64 L607.67,279.79 L608.32,279.94 L608.97,280.09 L609.62,280.23 L610.27,280.38 L610.92,280.52 L611.57,280.65 L612.22,280.79 L612.87,280.92 L613.52,281.05 L614.17,281.18 L614.82,281.31 L615.47,281.43 L616.12,281.56 L616.77,281.68 L617.42,281.80 L618.08,281.91 L618.73,282.03 L619.38,282.14 L620.03,282.25 L620.68,282.36 L621.33,282.46 L621.98,282.57 L622.63,282.67 L623.28,282.77 L623.93,282.87 L624.58,282.97 L625.23,283.07 L625.88,283.16 L626.53,283.26 L627.18,283.35 L627.83,283.44 L628.48,283.53 L629.13,283.61 L629.78,283.70 L630.43,283.78 L631.08,283.86 L631.73,283.94 L632.38,284.02 L633.03,284.10 L633.68,284.18 L634.33,284.26 L634.98,284.33 L635.63,284.40 L636.28,284.47 L636.93,284.54 L637.58,284.61 L638.23,284.68 L638.88,284.75 L639.54,284.81 L640.19,284.88 L640.84,284.94 L641.49,285.00 L642.14,285.07 L642.79,285.13 L643.44,285.18 L644.09,285.24 L644.74,285.30 L645.39,285.36 L646.04,285.41 L646.69,285.47 L647.34,285.52 L647.99,285.57 L648.64,285.62 L649.29,285.67 L649.94,285.72 L650.59,285.77 L651.24,285.82 L651.89,285.87 L652.54,285.91 L653.19,285.96 L653.84,286.00 L654.49,286.04 L655.14,286.09 L655.79,286.13 L656.44,286.17 L657.09,286.21 L657.74,286.25 L658.39,286.29 L659.04,286.33 L659.69,286.37 L660.34,286.40 L661.00,286.44 L661.65,286.48 L662.30,286.51 L662.95,286.55 L663.60,286.58 L664.25,286.61 L664.90,286.65 L665.55,286.68 L666.20,286.71 L666.85,286.74 L667.50,286.77 L668.15,286.80 L668.80,286.83 L669.45,286.86 L670.10,286.89 L670.75,286.92 L671.40,286.95" fill="none" stroke="#5ec962" stroke-width="1.3" stroke-dasharray="4.7 1.45" stroke-linejoin="round"/>
<g stroke="#c0c0c0" stroke-width="0.8" stroke-dasharray="0.8 1.32" fill="none" opacity="0.4"><line x1="69.28" y1="10" x2="69.28" y2="300"/><line x1="134.17" y1="10" x2="134.17" y2="300"/><line x1="199.06" y1="10" x2="199.06" y2="300"/><line x1="263.95" y1="10" x2="263.95" y2="300"/><line x1="328.84" y1="10" x2="328.84" y2="300"/><line x1="56" y1="22.90" x2="342" y2="22.90"/><line x1="56" y1="64.30" x2="342" y2="64.30"/><line x1="56" y1="105.70" x2="342" y2="105.70"/><line x1="56" y1="147.10" x2="342" y2="147.10"/><line x1="56" y1="188.50" x2="342" y2="188.50"/><line x1="56" y1="229.90" x2="342" y2="229.90"/><line x1="56" y1="271.30" x2="342" y2="271.30"/></g>
<g stroke="#c0c0c0" stroke-width="0.8" stroke-dasharray="0.8 1.32" fill="none" opacity="0.4"><line x1="411.80" y1="9" x2="411.80" y2="300"/><line x1="476.70" y1="9" x2="476.70" y2="300"/><line x1="541.60" y1="9" x2="541.60" y2="300"/><line x1="606.50" y1="9" x2="606.50" y2="300"/><line x1="671.40" y1="9" x2="671.40" y2="300"/><line x1="399" y1="288.40" x2="684" y2="288.40"/><line x1="399" y1="253.40" x2="684" y2="253.40"/><line x1="399" y1="218.40" x2="684" y2="218.40"/><line x1="399" y1="183.40" x2="684" y2="183.40"/><line x1="399" y1="148.40" x2="684" y2="148.40"/><line x1="399" y1="113.40" x2="684" y2="113.40"/><line x1="399" y1="78.40" x2="684" y2="78.40"/><line x1="399" y1="43.40" x2="684" y2="43.40"/></g>
<rect x="56.3" y="9.5" width="285.50" height="290.80" fill="none" stroke="#757575" stroke-width="1.25"/>
<g stroke="#757575" stroke-width="1"><line x1="69.28" y1="300.3" x2="69.28" y2="303.8"/><line x1="134.17" y1="300.3" x2="134.17" y2="303.8"/><line x1="199.06" y1="300.3" x2="199.06" y2="303.8"/><line x1="263.95" y1="300.3" x2="263.95" y2="303.8"/><line x1="328.84" y1="300.3" x2="328.84" y2="303.8"/><line x1="52.8" y1="22.90" x2="56.3" y2="22.90"/><line x1="52.8" y1="64.30" x2="56.3" y2="64.30"/><line x1="52.8" y1="105.70" x2="56.3" y2="105.70"/><line x1="52.8" y1="147.10" x2="56.3" y2="147.10"/><line x1="52.8" y1="188.50" x2="56.3" y2="188.50"/><line x1="52.8" y1="229.90" x2="56.3" y2="229.90"/><line x1="52.8" y1="271.30" x2="56.3" y2="271.30"/></g>
<rect x="399.1" y="9.4" width="285.20" height="290.90" fill="none" stroke="#757575" stroke-width="1.25"/>
<g stroke="#757575" stroke-width="1"><line x1="411.80" y1="300.3" x2="411.80" y2="303.8"/><line x1="476.70" y1="300.3" x2="476.70" y2="303.8"/><line x1="541.60" y1="300.3" x2="541.60" y2="303.8"/><line x1="606.50" y1="300.3" x2="606.50" y2="303.8"/><line x1="671.40" y1="300.3" x2="671.40" y2="303.8"/><line x1="395.6" y1="288.40" x2="399.1" y2="288.40"/><line x1="395.6" y1="253.40" x2="399.1" y2="253.40"/><line x1="395.6" y1="218.40" x2="399.1" y2="218.40"/><line x1="395.6" y1="183.40" x2="399.1" y2="183.40"/><line x1="395.6" y1="148.40" x2="399.1" y2="148.40"/><line x1="395.6" y1="113.40" x2="399.1" y2="113.40"/><line x1="395.6" y1="78.40" x2="399.1" y2="78.40"/><line x1="395.6" y1="43.40" x2="399.1" y2="43.40"/></g>
<g font-size="12" text-anchor="middle">
<text x="69.28" y="314.5">0</text>
<text x="134.17" y="314.5">1</text>
<text x="199.06" y="314.5">2</text>
<text x="263.95" y="314.5">3</text>
<text x="328.84" y="314.5">4</text>
<text x="411.80" y="314.5">0</text>
<text x="476.70" y="314.5">1</text>
<text x="541.60" y="314.5">2</text>
<text x="606.50" y="314.5">3</text>
<text x="671.40" y="314.5">4</text>
</g>
<g font-size="12" text-anchor="end">
<text x="51" y="27.40">0.0</text>
<text x="51" y="68.80">-0.05</text>
<text x="51" y="110.20">-0.1</text>
<text x="51" y="151.60">-0.15</text>
<text x="51" y="193.00">-0.2</text>
<text x="51" y="234.40">-0.25</text>
<text x="51" y="275.80">-0.3</text>
<text x="394" y="292.90">0</text>
<text x="394" y="257.90">5</text>
<text x="394" y="222.90">10</text>
<text x="394" y="187.90">15</text>
<text x="394" y="152.90">20</text>
<text x="394" y="117.90">25</text>
<text x="394" y="82.90">30</text>
<text x="394" y="47.90">35</text>
</g>
<text x="199.3" y="330.9" font-size="12" text-anchor="middle">Separation distance, [Å]</text>
<text x="541.9" y="330.9" font-size="12" text-anchor="middle">Separation distance, [Å]</text>
<text transform="translate(15,233.6) rotate(-90)" font-size="12">Energy per unit area, [eVÅ<tspan font-size="8.5" dy="-4.5" dx="-0.9">-2</tspan><tspan dy="4.5" dx="-1">]</tspan></text>
<text transform="translate(373.2,212.5) rotate(-90)" font-size="12">Normal stress, [GPa]</text>
<text x="12.9" y="10.2" font-size="14" font-weight="bold" stroke="#000" stroke-width="0.35">a</text>
<text x="355.8" y="9.9" font-size="14" font-weight="bold" stroke="#000" stroke-width="0.35">b</text>
<rect x="231" y="222.4" width="104.6" height="71.4" rx="2.5" fill="#fff" stroke="#dcdcdc" stroke-width="1"/>
<circle cx="247.5" cy="232.3" r="3.75" fill="#440154"/>
<polygon points="247.50,245.85 243.85,253.15 251.15,253.15" fill="#5ec962"/>
<circle cx="247.5" cy="266.6" r="3.45" fill="none" stroke="#440154" stroke-width="0.9"/>
<polygon points="247.50,280.40 244.20,287.00 250.80,287.00" fill="none" stroke="#5ec962" stroke-width="1"/>
<g font-size="12">
<text x="268.9" y="235.8">DFT:100</text>
<text x="268.9" y="252.6">DFT:110</text>
<text x="268.9" y="270.0">GAP22:100</text>
<text x="268.9" y="286.8">GAP22:110</text>
</g>
<rect x="573.9" y="15.4" width="104.5" height="71.8" rx="2.5" fill="#fff" stroke="#dcdcdc" stroke-width="1"/>
<line x1="577.8" y1="25.0" x2="602.8" y2="25.0" stroke="#440154" stroke-width="1.2"/>
<line x1="577.8" y1="42.0" x2="602.8" y2="42.0" stroke="#5ec962" stroke-width="1.2"/>
<line x1="577.8" y1="59.2" x2="602.8" y2="59.2" stroke="#440154" stroke-width="1.2" stroke-dasharray="4.7 1.45"/>
<line x1="577.8" y1="76.2" x2="602.8" y2="76.2" stroke="#5ec962" stroke-width="1.2" stroke-dasharray="4.7 1.45"/>
<g font-size="12">
<text x="611.8" y="29.3">DFT:100</text>
<text x="611.8" y="46.2">DFT:110</text>
<text x="611.8" y="63.6">GAP22:100</text>
<text x="611.8" y="80.5">GAP22:110</text>
</g>
<defs><clipPath id="clipL"><rect x="56.3" y="9.5" width="285.5" height="290.8"/></clipPath></defs>
</svg></div></body></html>
